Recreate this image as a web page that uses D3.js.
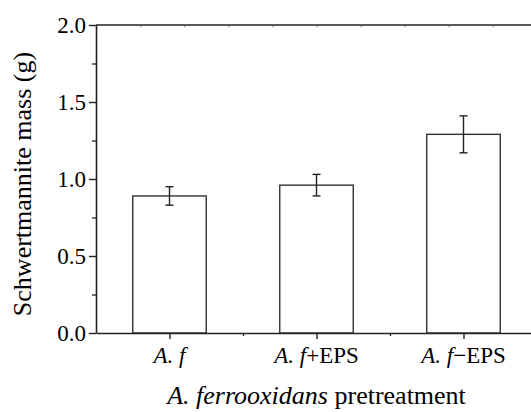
<html><body style="margin:0">
<svg id="chart" width="531" height="412" font-family="Liberation Serif"></svg>
<script src="https://cdn.jsdelivr.net/npm/d3@7"></script>
<script>
// data
var categories = ["A. f", "A. f+EPS", "A. f\u2212EPS"];
var values = [0.89, 0.96, 1.29];
var errors = [0.06, 0.07, 0.12];
var yTicks = [0, 0.5, 1.0, 1.5, 2.0];

var serif = "'Liberation Serif'";
var svg = d3.select("#chart");
var mLeft = 96, mRight = 537, mTop = 25, mBottom = 333;

// categories sit at 1,2,3 on a 0.5..3.5 axis (right edge runs off the picture)
var x = d3.scaleLinear().domain([0.5, 3.5]).range([mLeft, mRight]);
var y = d3.scaleLinear().domain([0, 2]).range([mBottom, mTop]);

// bars
svg.selectAll(".bar")
  .data(values)
  .enter().append("rect")
  .attr("class", "bar")
  .attr("fill", "#fff").attr("stroke", "#333").attr("stroke-width", 1.4)
  .attr("x", function(d, i) { return x(i + 1 - 0.25); })
  .attr("width", function() { return x(1.25) - x(0.75); })
  .attr("y", function(d) { return y(d); })
  .attr("height", function(d) { return y(0) - y(d); });

// error bars
var err = svg.selectAll(".errg")
  .data(values)
  .enter().append("g")
  .attr("stroke", "#222").attr("stroke-width", 1.4);
err.append("line")
  .attr("x1", function(d, i) { return x(i + 1); })
  .attr("x2", function(d, i) { return x(i + 1); })
  .attr("y1", function(d, i) { return y(d - errors[i]); })
  .attr("y2", function(d, i) { return y(d + errors[i]); });
[-1, 1].forEach(function(s) {
  err.append("line")
    .attr("x1", function(d, i) { return x(i + 1) - 4; })
    .attr("x2", function(d, i) { return x(i + 1) + 4; })
    .attr("y1", function(d, i) { return y(d + s * errors[i]); })
    .attr("y2", function(d, i) { return y(d + s * errors[i]); });
});

function inkAxis(g, w) {
  g.selectAll("path, line").attr("stroke", "#222").attr("stroke-width", w);
}

// left axis: major + minor
svg.append("g")
  .attr("transform", "translate(" + mLeft + ",0)")
  .call(d3.axisLeft(y).tickValues([0.25, 0.75, 1.25, 1.75]).tickSize(4).tickFormat(""))
  .call(function(g) { g.select(".domain").remove(); inkAxis(g, 1.3); });
var yAx = svg.append("g")
  .attr("transform", "translate(" + mLeft + ",0)")
  .call(d3.axisLeft(y).tickValues(yTicks).tickSize(7).tickSizeOuter(0).tickPadding(3).tickFormat(d3.format(".1f")));
yAx.attr("font-family", "Liberation Serif").attr("font-size", 23);
inkAxis(yAx, 1.4);
yAx.select(".domain").attr("stroke-width", 1.6);
yAx.selectAll("text")
  .style("font-family", serif).style("font-size", "23px").attr("fill", "#000").attr("dy", "0.34em");

// bottom axis
svg.append("g")
  .attr("transform", "translate(0," + mBottom + ")")
  .call(d3.axisBottom(x).tickValues([1.5, 2.5]).tickSize(3).tickFormat(""))
  .call(function(g) { g.select(".domain").remove(); inkAxis(g, 1.3); });
var xAx = svg.append("g")
  .attr("transform", "translate(0," + mBottom + ")")
  .call(d3.axisBottom(x).tickValues([1, 2, 3]).tickSize(6).tickSizeOuter(0).tickFormat(""));
inkAxis(xAx, 1.4);
xAx.select(".domain").attr("stroke-width", 1.6);

// category labels, "A. f" in italics
svg.selectAll(".cat")
  .data(categories)
  .enter().append("text")
  .attr("class", "cat")
  .attr("x", function(d, i) { return x(i + 1); })
  .attr("y", 363)
  .attr("text-anchor", "middle")
  .style("font-family", serif)
  .style("font-size", "23px")
  .html(function(d) {
    return "<tspan style='font-style:italic'>" + d.slice(0, 4) + "</tspan>" + d.slice(4);
  });

// top frame line with tiny inward ticks
svg.append("line")
  .attr("x1", mLeft).attr("x2", mRight).attr("y1", mTop).attr("y2", mTop)
  .attr("stroke", "#222").attr("stroke-width", 1.6);
svg.append("g")
  .attr("transform", "translate(0," + mTop + ")")
  .call(d3.axisTop(x).tickValues(d3.range(0.8, 3.5, 0.3)).tickSize(-2).tickFormat(""))
  .call(function(g) { g.select(".domain").remove(); g.selectAll("line").attr("stroke", "#666"); });

// axis titles
svg.append("text")
  .attr("x", x(2)).attr("y", 404)
  .attr("text-anchor", "middle")
  .style("font-family", serif)
  .style("font-size", "26px")
  .html("<tspan style='font-style:italic'>A. ferrooxidans</tspan> pretreatment");

svg.append("text")
  .attr("transform", "translate(31," + ((mTop + mBottom) / 2 + 5) + ") rotate(-90)")
  .attr("text-anchor", "middle")
  .style("font-family", serif)
  .style("font-size", "26px")
  .text("Schwertmannite mass (g)");
</script>
</body></html>
